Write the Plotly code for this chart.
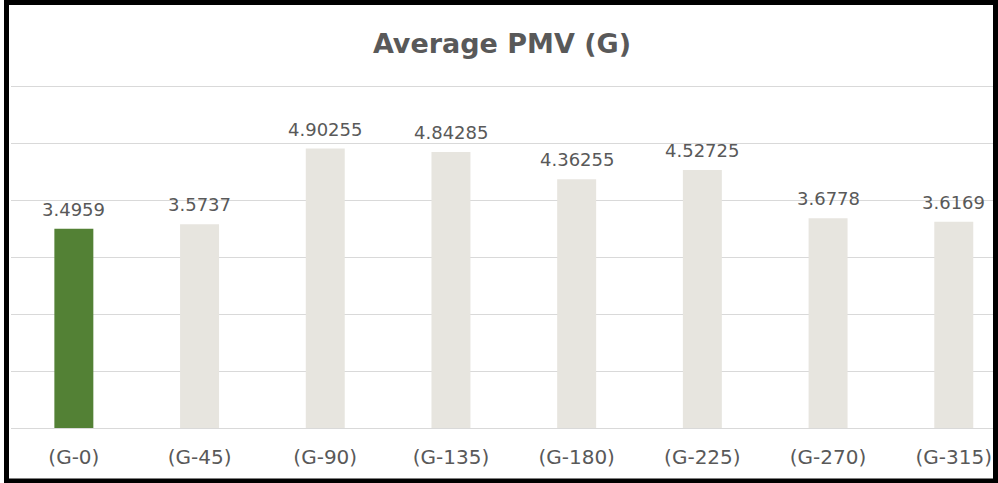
import plotly.graph_objects as go

categories = ["(G-0)", "(G-45)", "(G-90)", "(G-135)", "(G-180)", "(G-225)", "(G-270)", "(G-315)"]
pmv_values = [3.4959, 3.5737, 4.90255, 4.84285, 4.36255, 4.52725, 3.6778, 3.6169]
value_labels = ["3.4959", "3.5737", "4.90255", "4.84285", "4.36255", "4.52725", "3.6778", "3.6169"]
highlight = "(G-0)"

W, H = 998, 483
ML, MR, MT, MB = 11, 4, 83, 55
PW, PH = W - ML - MR, H - MT - MB

GREEN = "#538135"
GREY_BAR = "#E7E5DF"
TEXT = "#595959"
FONT = "DejaVu Sans"


def px_x(px):
    return (px - ML) / PW


def px_y(py):
    return (H - MB - py) / PH


colors = [GREEN if c == highlight else GREY_BAR for c in categories]
xs = list(range(len(categories)))

fig = go.Figure()
fig.add_trace(go.Bar(
    x=xs, y=pmv_values,
    marker=dict(color=colors, line=dict(width=0)),
    width=0.31,
    hoverinfo="skip",
))

# value labels above the bars
for x, v, lab in zip(xs, pmv_values, value_labels):
    fig.add_annotation(x=x, y=v, text=lab, showarrow=False, yanchor="bottom", yshift=7,
                       font=dict(family=FONT, size=18, color=TEXT))

fig.update_layout(
    width=W, height=H,
    margin=dict(l=ML, r=MR, t=MT, b=MB, autoexpand=False),
    paper_bgcolor="white", plot_bgcolor="white",
    showlegend=False,
    title=dict(text="<b>Average PMV (G)</b>", x=0.503, xanchor="center", y=1 - 44 / H, yanchor="middle",
               font=dict(family=FONT, size=27, color=TEXT)),
    xaxis=dict(range=[-0.5, 7.32], tickmode="array", tickvals=xs,
               ticktext=categories, showgrid=False, zeroline=False, showline=False,
               tickfont=dict(family=FONT, size=20, color=TEXT), ticks="",
               ticklabelstandoff=15, automargin=False),
    yaxis=dict(range=[0, 6 + 3 / 57], tickvals=[0, 1, 2, 3, 4, 5, 6], showgrid=True,
               gridcolor="#D9D9D9", gridwidth=1,
               zeroline=True, zerolinecolor="#D9D9D9", zerolinewidth=1,
               showticklabels=False, ticks="", automargin=False),
)

# black frame around the picture
fig.add_shape(type="rect", xref="paper", yref="paper",
              x0=px_x(6.5), x1=px_x(995.5), y0=px_y(481), y1=px_y(2.5),
              line=dict(color="black", width=5), fillcolor="rgba(0,0,0,0)", layer="above")

fig.write_html("out.html", config={"displayModeBar": False},
               post_script="document.body.style.margin='0';")
